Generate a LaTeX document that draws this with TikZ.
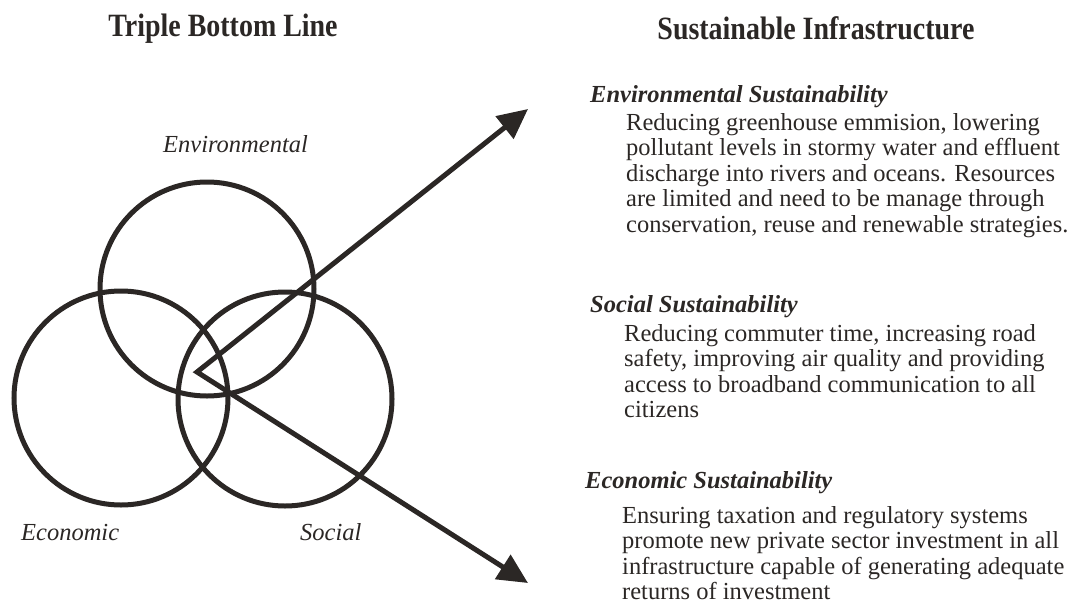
\documentclass[tikz,border=0pt]{standalone}
\usepackage{fontspec}
\setmainfont{Liberation Serif}
\newfontfamily\titlefont{Liberation Serif}[FakeStretch=0.86]
\usetikzlibrary{arrows.meta}
\definecolor{ink}{HTML}{2B2725}

\tikzset{
  ring/.style={circle, draw=ink, line width=5pt, minimum size=214pt, inner sep=0pt},
  tag/.style={font=\fontsize{24.5}{25.5}\selectfont\itshape, text=ink, inner sep=0pt, anchor=base west},
  heading/.style={font=\titlefont\bfseries\fontsize{32.5}{32.5}\selectfont, text=ink, inner sep=0pt, anchor=base},
  subhead/.style={font=\fontsize{24.5}{25.5}\selectfont\bfseries\itshape, text=ink, inner sep=0pt, anchor=base west},
  para/.style={font=\fontsize{24.5}{25.5}\selectfont, text=ink, inner sep=0pt, anchor=base west},
  vee/.style={draw=ink, line width=5pt, line join=miter,
    {Triangle[length=30pt,width=28pt]}-{Triangle[length=30pt,width=28pt]}}
}

\begin{document}
\begin{tikzpicture}[x=1pt, y=-1pt]
\useasboundingbox (0,0) rectangle (1075,608);

% column titles
\node[heading] (tbl) at (223,36) {Triple Bottom Line};
\node[heading] (si) at (816,39) {Sustainable Infrastructure};

% the three overlapping circles
\node[ring] (env) at (207,289) {};
\node[ring] (eco) at (121,398) {};
\node[ring] (soc) at (285,399) {};

\node[tag] (envlab) at (163,152) {Environmental};
\node[tag] (ecolab) at (21,540) {Economic};
\node[tag] (soclab) at (300,540) {Social};

% two arrows leaving the common centre
\coordinate (v) at (197,372);
\coordinate (up) at (528,109);
\coordinate (down) at (528,583);
\draw[vee] (up) -- (v) -- (down);

% descriptions
\node[subhead] (envh) at (590,102) {Environmental Sustainability};
\node[para] (envt) at (626,130) {\begin{tabular}[t]{@{}l@{}}
Reducing greenhouse emmision, lowering\\
pollutant levels in stormy water and effluent\\
discharge into rivers and oceans. Resources\\
are limited and need to be manage through\\
conservation, reuse and renewable strategies.
\end{tabular}};

\node[subhead] (soch) at (590,312) {Social Sustainability};
\node[para] (soct) at (624,341) {\begin{tabular}[t]{@{}l@{}}
Reducing commuter time, increasing road\\
safety, improving air quality and providing\\
access to broadband communication to all\\
citizens
\end{tabular}};

\node[subhead] (ecoh) at (585,488) {Economic Sustainability};
\node[para] (ecot) at (622,523) {\begin{tabular}[t]{@{}l@{}}
Ensuring taxation and regulatory systems\\
promote new private sector investment in all\\
infrastructure capable of generating adequate\\
returns of investment
\end{tabular}};
\end{tikzpicture}
\end{document}
